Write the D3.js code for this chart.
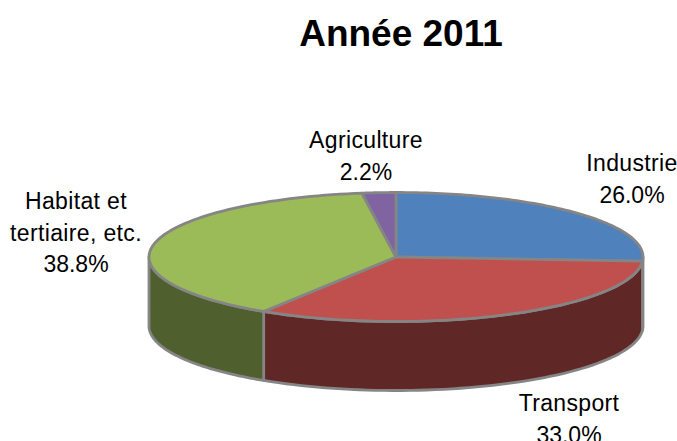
<!DOCTYPE html>
<html><head><meta charset="utf-8"><script src="https://cdn.jsdelivr.net/npm/d3@7"></script>
<style>html,body{margin:0;background:#fff}svg{display:block}text{font-family:"Liberation Sans",Arial,sans-serif;fill:#000}</style></head>
<body><svg id="c" width="677" height="441"></svg>
<script>
const categories=["Industrie","Transport","Habitat et tertiaire, etc.","Agriculture"];
const values=[26.0,33.0,38.8,2.2];
const topColors=["#4f81bd","#c0504d","#9bbb59","#8064a2"];
const sideColors=["#2a4466","#5f2826","#4f5f2e","#43345a"];
const labelLines=[["Industrie","26.0%"],["Transport","33.0%"],["Habitat et","tertiaire, etc.","38.8%"],["Agriculture","2.2%"]];
const labelAnchors=[[632,171],[569,411],[76,209],[366,148]];
const title="Année 2011";
const svg=d3.select("#c");
const cx=396,cy=257,rx=247,ry=64.5,depth=69;
const pie=d3.pie().sort(null).value(d=>d)(values);
const px=a=>cx+rx*Math.sin(a), py=a=>cy-ry*Math.cos(a);
const stroke="#858585";
function wallPath(a0,a1){
  const s=Math.max(a0,Math.PI/2),e=Math.min(a1,3*Math.PI/2);
  if(e<=s)return null;
  const steps=d3.range(0,61).map(i=>s+(e-s)*i/60);
  const p=d3.path();
  steps.forEach((a,i)=>i?p.lineTo(px(a),py(a)):p.moveTo(px(a),py(a)));
  steps.slice().reverse().forEach(a=>p.lineTo(px(a),py(a)+depth));
  p.closePath();return p.toString();
}
function topPath(a0,a1){
  const p=d3.path();p.moveTo(cx,cy);
  d3.range(0,81).forEach(i=>{const a=a0+(a1-a0)*i/80;p.lineTo(px(a),py(a));});
  p.closePath();return p.toString();
}
pie.forEach((d,i)=>{const w=wallPath(d.startAngle,d.endAngle);
  if(w)svg.append("path").attr("d",w).attr("fill",sideColors[i]).attr("stroke",stroke).attr("stroke-width",2.8).attr("stroke-linejoin","round");});
pie.forEach((d,i)=>svg.append("path").attr("d",topPath(d.startAngle,d.endAngle)).attr("fill",topColors[i]).attr("stroke",stroke).attr("stroke-width",2.8).attr("stroke-linejoin","round"));
svg.append("text").attr("x",401).attr("y",46).attr("text-anchor","middle").attr("font-size",37).attr("font-weight",700).text(title);
labelLines.forEach((ls,i)=>{ls.forEach((t,j)=>svg.append("text").attr("x",labelAnchors[i][0]).attr("y",labelAnchors[i][1]+j*31.5).attr("text-anchor","middle").attr("font-size",23).attr("letter-spacing",t.endsWith("%")?0:0.35).text(t));});
</script></body></html>
